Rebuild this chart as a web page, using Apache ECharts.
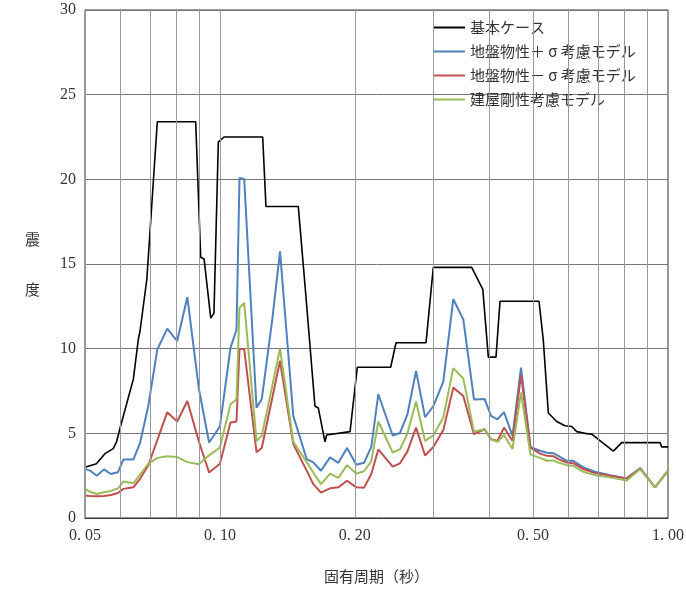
<!DOCTYPE html>
<html>
<head>
<meta charset="utf-8">
<script src="https://cdn.jsdelivr.net/npm/echarts@6/dist/echarts.min.js"></script>
<style>
  html, body { margin: 0; padding: 0; background: #fff; }
  #main { width: 686px; height: 589px; }
</style>
</head>
<body>
<div id="main"></div>
<script>
// 基本ケース
var basePeriods = [0.05, 0.053, 0.0554, 0.0578, 0.0588, 0.06, 0.0641, 0.0658, 0.0663, 0.0687, 0.0725,
  0.0883, 0.0906, 0.0922, 0.0954, 0.097, 0.0992, 0.1021, 0.1246, 0.1267, 0.1496, 0.1549, 0.163,
  0.1658, 0.1716, 0.1731, 0.1952, 0.2026, 0.2405, 0.2472, 0.2884, 0.2994, 0.3647, 0.3861, 0.3972,
  0.4132, 0.4218, 0.5154, 0.5269, 0.5407, 0.5644, 0.5891, 0.6098, 0.6256, 0.6528, 0.6757, 0.755,
  0.7883, 0.96, 0.968, 1.0];
var baseValues = [3.0, 3.2, 3.8, 4.1, 4.5, 5.4, 8.2, 10.6, 11.0, 14.1, 23.4,
  23.4, 15.4, 15.3, 11.8, 12.1, 22.2, 22.5, 22.5, 18.4, 18.4, 13.7, 6.6,
  6.5, 4.5, 4.9, 5.1, 8.9, 8.9, 10.35, 10.35, 14.8, 14.8, 13.5, 9.5,
  9.5, 12.8, 12.8, 10.5, 6.2, 5.7, 5.45, 5.4, 5.1, 5.0, 4.95, 3.95,
  4.45, 4.45, 4.2, 4.2];

// 他のケース共通の周期
var periods = [0.05, 0.0513, 0.0531, 0.0551, 0.0571, 0.0592, 0.0609, 0.0641, 0.0663, 0.0692,
  0.0725, 0.0763, 0.0803, 0.0846, 0.0898, 0.0946, 0.1, 0.1056, 0.1089, 0.1106,
  0.1133, 0.1207, 0.124, 0.1309, 0.1362, 0.1458, 0.1562, 0.1616, 0.1681, 0.1761,
  0.1838, 0.1922, 0.2016, 0.2097, 0.2177, 0.2257, 0.243, 0.2523, 0.262, 0.274,
  0.287, 0.2994, 0.3152, 0.3318, 0.3493, 0.369, 0.3897, 0.4027, 0.4164, 0.4305,
  0.4498, 0.4699, 0.4933, 0.5181, 0.537, 0.5547, 0.5691, 0.5943, 0.6148, 0.6471,
  0.6872, 0.7424, 0.8088, 0.8673, 0.9354, 1.0];
var plusSigma = [2.9, 2.8, 2.49, 2.87, 2.6, 2.7, 3.45, 3.45, 4.4, 6.6,
  9.96, 11.18, 10.45, 13.05, 7.6, 4.46, 5.4, 10.06, 11.1, 20.08,
  20.02, 6.52, 7.01, 11.73, 15.75, 6.03, 3.48, 3.28, 2.79, 3.58,
  3.26, 4.13, 3.15, 3.26, 4.2, 7.31, 4.87, 5.02, 6.1, 8.68,
  5.96, 6.6, 8.05, 12.92, 11.73, 7.0, 7.03, 6.03, 5.83, 6.25,
  4.85, 8.88, 4.18, 3.97, 3.85, 3.83, 3.67, 3.38, 3.38, 2.99,
  2.73, 2.53, 2.34, 2.95, 1.81, 2.8];
var minusSigma = [1.33, 1.3, 1.28, 1.3, 1.36, 1.48, 1.72, 1.81, 2.3, 3.1,
  4.6, 6.25, 5.7, 6.91, 4.5, 2.69, 3.2, 5.64, 5.7, 9.98,
  9.98, 3.89, 4.13, 7.1, 9.27, 4.36, 2.8, 2.0, 1.5, 1.75,
  1.81, 2.2, 1.81, 1.78, 2.6, 4.05, 3.03, 3.23, 3.92, 5.34,
  3.69, 4.19, 5.19, 7.7, 7.2, 4.95, 5.24, 4.66, 4.55, 5.34,
  4.55, 8.45, 4.16, 3.8, 3.67, 3.65, 3.48, 3.28, 3.24, 2.89,
  2.65, 2.49, 2.34, 2.9, 1.81, 2.8];
var stiffness = [1.7, 1.55, 1.42, 1.52, 1.6, 1.75, 2.15, 2.05, 2.55, 3.2,
  3.55, 3.65, 3.6, 3.3, 3.18, 3.7, 4.16, 6.72, 7.01, 12.41,
  12.7, 4.55, 4.85, 7.81, 10.0, 4.5, 3.3, 2.69, 2.0, 2.62,
  2.37, 3.12, 2.62, 2.76, 3.35, 5.7, 3.87, 4.06, 4.97, 6.88,
  4.55, 4.87, 5.93, 8.85, 8.24, 5.1, 5.24, 4.63, 4.5, 4.9,
  4.07, 7.41, 3.74, 3.55, 3.38, 3.4, 3.28, 3.12, 3.08, 2.73,
  2.53, 2.4, 2.22, 2.89, 1.81, 2.8];

var seriesNames = ['基本ケース', '地盤物性＋ σ 考慮モデル', '地盤物性－ σ 考慮モデル', '建屋剛性考慮モデル'];
var seriesColors = ['#000000', '#4f81bd', '#c0504d', '#9bbb59'];

// 縦グリッド線と目盛ラベル
var gridPeriods = [0.05, 0.06, 0.07, 0.08, 0.09, 0.1, 0.2, 0.3, 0.4, 0.5, 0.6, 0.7, 0.8, 0.9, 1.0];
var tickPeriods = [0.05, 0.1, 0.2, 0.5, 1.0];
var tickLabels = ['0. 05', '0. 10', '0. 20', '0. 50', '1. 00'];

function pairs(xs, ys) {
  var out = [];
  for (var i = 0; i < xs.length; i++) out.push([xs[i], ys[i]]);
  return out;
}

var gridLines = gridPeriods.map(function (p) {
  var idx = tickPeriods.indexOf(p);
  return {
    xAxis: p,
    label: {
      show: idx >= 0,
      formatter: idx >= 0 ? tickLabels[idx] : ''
    }
  };
});

var chart = echarts.init(document.getElementById('main'));

function lineSeries(name, color, data, width) {
  return {
    name: name,
    type: 'line',
    symbol: 'none',
    data: data,
    z: 3,
    lineStyle: { color: color, width: width },
    itemStyle: { color: color }
  };
}

var option = {
  animation: false,
  backgroundColor: '#fff',
  grid: {
    left: 85, right: 18, top: 10, bottom: 70,
    show: true, borderColor: '#333', borderWidth: 1
  },
  legend: {
    data: seriesNames.map(function (n) { return { name: n, icon: 'rect' }; }),
    orient: 'vertical',
    left: 433, top: 20,
    padding: 0,
    itemWidth: 32, itemHeight: 2, itemGap: 9,
    textStyle: { fontFamily: 'Noto Sans CJK JP', fontSize: 15, color: '#333' }
  },
  xAxis: {
    type: 'log',
    logBase: 10,
    min: 0.05,
    max: 1,
    name: '固有周期（秒）',
    nameLocation: 'middle',
    nameGap: 51,
    nameTextStyle: { fontFamily: 'Noto Sans CJK JP', fontSize: 15, color: '#333' },
    axisLine: { lineStyle: { color: '#333', width: 1 } },
    axisTick: { show: false },
    axisLabel: { show: false },
    splitLine: { show: false }
  },
  yAxis: {
    type: 'value',
    min: 0,
    max: 30,
    interval: 5,
    name: '震\n\n度',
    nameLocation: 'middle',
    nameRotate: 0,
    nameGap: 45,
    nameTextStyle: { fontFamily: 'Noto Sans CJK JP', fontSize: 15, color: '#333', lineHeight: 25 },
    axisLine: { show: true, lineStyle: { color: '#333', width: 1 } },
    axisTick: { show: false },
    axisLabel: { fontFamily: 'Liberation Serif', fontSize: 16, color: '#333', margin: 9 },
    splitLine: { lineStyle: { color: '#777', width: 1 } }
  },
  series: [
    {
      name: 'grid',
      type: 'line',
      data: [],
      z: 1,
      silent: true,
      markLine: {
        silent: true,
        symbol: 'none',
        animation: false,
        lineStyle: { color: '#999', width: 1, type: 'solid' },
        label: {
          position: 'start',
          distance: 10,
          fontFamily: 'Liberation Serif',
          fontSize: 16,
          color: '#333'
        },
        emphasis: { disabled: true },
        data: gridLines
      }
    },
    lineSeries(seriesNames[0], seriesColors[0], pairs(basePeriods, baseValues), 1.6),
    lineSeries(seriesNames[1], seriesColors[1], pairs(periods, plusSigma), 2),
    lineSeries(seriesNames[2], seriesColors[2], pairs(periods, minusSigma), 2),
    lineSeries(seriesNames[3], seriesColors[3], pairs(periods, stiffness), 2)
  ]
};

chart.setOption(option);
</script>
</body>
</html>
